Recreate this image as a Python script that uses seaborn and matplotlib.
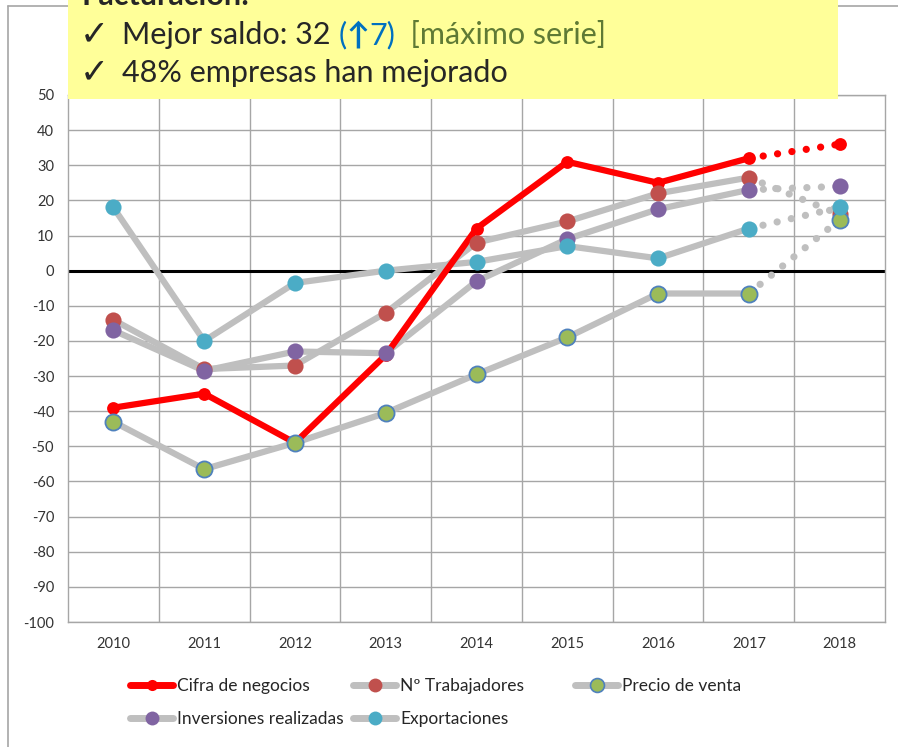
import numpy as np
import matplotlib.pyplot as plt
import seaborn as sns
from matplotlib.lines import Line2D
from matplotlib.patches import Rectangle
from matplotlib.text import Annotation

# Data (saldos, % respuestas)
years = ['2010', '2011', '2012', '2013', '2014', '2015', '2016', '2017', '2018']
cifra = [-39, -35, -49, -24, 12, 31, 25, 32, 36]
trabajadores = [-14, -28, -27, -12, 8, 14, 22, 26.5, 16]
precio = [-43, -56.5, -49, -40.5, -29.5, -19, -6.5, -6.5, 14.5]
inversiones = [-17, -28.5, -23, -23.5, -3, 9, 17.5, 23, 24]
exportaciones = [18, -20, -3.5, 0, 2.5, 7, 3.5, 12, 18]

names = ['Cifra de negocios', 'Nº Trabajadores', 'Precio de venta',
         'Inversiones realizadas', 'Exportaciones']
marker_colors = ['#FF0000', '#C0504D', '#9BBB59', '#8064A2', '#4BACC6']
GREY = '#BFBFBF'

sns.set_style("white")
plt.rcParams['font.family'] = ['Lato', 'DejaVu Sans']
plt.rcParams['axes.unicode_minus'] = False

fig = plt.figure(figsize=(8.98, 7.47), dpi=100)
W, H = 898, 747
ax = fig.add_axes([68 / W, 1 - 622 / H, 817 / W, 527 / H])

xpos = np.arange(len(years))
all_series = [cifra, trabajadores, precio, inversiones, exportaciones]

# lines first (grey under red), then markers
for i, vals in enumerate(all_series):
    vals = np.array(vals, dtype=float)
    is_red = i == 0
    lc = '#FF0000' if is_red else GREY
    z = 4 if is_red else 3
    sns.lineplot(x=xpos[:8], y=vals[:8], color=lc, lw=4.5, ax=ax, zorder=z,
                 solid_capstyle='round', solid_joinstyle='round', legend=False)
    # 2018 = previsión, punteada
    sns.lineplot(x=xpos[7:], y=vals[7:], color=lc, lw=5.2, ax=ax, zorder=z,
                 linestyle=(0, (0.01, 2.0)), dash_capstyle='round', legend=False)

for i, vals in enumerate(all_series):
    is_red = i == 0
    ec = '#4F81BD' if i == 2 else marker_colors[i]
    sns.scatterplot(x=xpos, y=vals, color=marker_colors[i], s=85 if is_red else 135,
                    edgecolor=ec, linewidth=1.3 if i == 2 else 0, ax=ax, zorder=5 + i,
                    legend=False)

ax.axhline(0, color='black', lw=2.2, zorder=2)

ax.set_xlim(-0.5, 8.5)
ax.set_ylim(-100, 50)
ax.set_yticks(range(-100, 51, 10))
ax.set_xticks(xpos)
ax.set_xticklabels(years)
ax.set_xticks(np.arange(0.5, 8, 1), minor=True)
ax.yaxis.grid(True, color='#A6A6A6', lw=1)
ax.xaxis.grid(True, which='minor', color='#A6A6A6', lw=1)
ax.xaxis.grid(False, which='major')
ax.tick_params(axis='both', which='both', length=0, labelsize=10.5, colors='#333333')
ax.tick_params(axis='y', pad=10)
ax.tick_params(axis='x', pad=11)
ax.set_xlabel('')
ax.set_ylabel('')
for sp in ax.spines.values():
    sp.set_color('#A6A6A6')
    sp.set_linewidth(1)

# outer chart frame
fig.add_artist(Line2D([8 / W, 8 / W], [0, 1 - 6 / H], color='#A6A6A6', lw=1.2))
fig.add_artist(Line2D([8 / W, 1], [1 - 6 / H, 1 - 6 / H], color='#A6A6A6', lw=1.2))

# yellow note box
axb = fig.add_axes([68 / W, 1 - 99 / H, 770 / W, 99 / H], zorder=10)
axb.set_axis_off()
axb.add_patch(Rectangle((0, 0), 1, 1, transform=axb.transAxes, facecolor='#FFFF99',
                        edgecolor='none', clip_on=False))


def bx(px):
    return (px - 68) / 770


def by(py):
    return (99 - py) / 99


fs = 22
axb.text(bx(82), by(5), 'Facturación:', fontsize=fs, fontweight='bold',
         va='baseline', clip_on=False)
axb.text(bx(80), by(44), '✓', fontsize=25, va='baseline', family='DejaVu Sans')
axb.text(bx(80), by(82), '✓', fontsize=25, va='baseline', family='DejaVu Sans')
t = axb.text(bx(122), by(44), 'Mejor saldo: 32 ', fontsize=fs, va='baseline')
pieces = [('(', '#0070C0', 'normal'), ('↑', '#0070C0', 'bold'),
          ('7)', '#0070C0', 'normal'), ('  [máximo serie]', '#5F7A35', 'normal')]
for s, c, w in pieces:
    a = Annotation(s, xy=(1, 0), xycoords=t, va='bottom', ha='left', fontsize=fs,
                   color=c, fontweight=w)
    axb.add_artist(a)
    t = a
axb.text(bx(122), by(82), '48% empresas han mejorado', fontsize=fs, va='baseline')

# legend: three equal-width columns, like the original
handles = []
for i in range(5):
    lc = '#FF0000' if i == 0 else GREY
    ec = '#4F81BD' if i == 2 else marker_colors[i]
    handles.append(Line2D([], [], color=lc, lw=5, marker='o',
                          ms=8 if i == 0 else 10, markerfacecolor=marker_colors[i],
                          markeredgecolor=ec, markeredgewidth=1.2 if i == 2 else 0))
columns = [([0, 3], 130), ([1, 4], 353), ([2], 575)]
for idx, x0 in columns:
    fig.legend([handles[k] for k in idx], [names[k] for k in idx], ncol=1,
               loc='upper left', bbox_to_anchor=(x0 / W, 1 - 678 / H), frameon=False,
               fontsize=12.5, handlelength=2.5, handletextpad=0.2,
               labelspacing=1.0, borderpad=0, borderaxespad=0)

fig.savefig('out.png', dpi=100)
